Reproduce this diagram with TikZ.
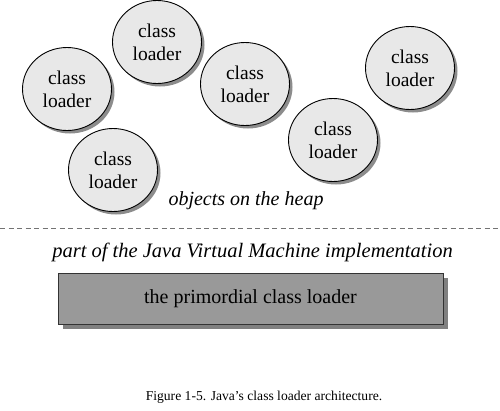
\documentclass[tikz,border=0pt]{standalone}
\usepackage{fontspec}
\setmainfont{Liberation Serif}
\usetikzlibrary{shapes.geometric,shadows}
\begin{document}
\begin{tikzpicture}[x=1pt,y=-1pt,
  loader/.style={ellipse,draw=black,line width=0.9pt,fill=black!9,
    minimum width=89pt,minimum height=83pt,inner sep=0pt,align=center,
    font=\fontsize{19.5}{23}\selectfont,
    drop shadow={shadow xshift=3pt,shadow yshift=-3pt,fill=black!45,opacity=1}},
  primbox/.style={rectangle,draw=black!80,line width=0.9pt,fill=black!40,
    minimum width=385pt,minimum height=51pt,font=\fontsize{20}{24}\selectfont,
    drop shadow={shadow xshift=5pt,shadow yshift=-5pt,fill=black!50,opacity=1}},
  label/.style={font=\itshape\fontsize{20}{24}\selectfont,inner sep=0pt}
]
\useasboundingbox (0,0) rectangle (500,410);
\node[loader] (c1) at (67,89) {class\\loader};
\node[loader] (c2) at (157,42) {class\\loader};
\node[loader] (c3) at (113,170) {class\\loader};
\node[loader] (c4) at (245,84) {class\\loader};
\node[loader] (c5) at (333,140) {class\\loader};
\node[loader] (c6) at (410,68) {class\\loader};
\node[label] (heap) at (246,201) {objects on the heap};
\coordinate (dl) at (0,228);
\coordinate (dr) at (500,228);
\draw[dash pattern=on 5pt off 3.5pt,line width=0.8pt,black!55] (dl) -- (dr);
\node[label,font=\itshape\fontsize{20.5}{24}\selectfont] (jvm) at (252.5,252) {part of the Java Virtual Machine implementation};
\node[primbox] (prim) at (250.5,298.5) {the primordial class loader};
\node[font=\fontsize{13.6}{15}\selectfont,inner sep=0pt] (cap) at (264,397) {Figure 1-5. Java’s class loader architecture.};
\end{tikzpicture}
\end{document}
